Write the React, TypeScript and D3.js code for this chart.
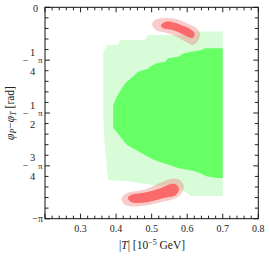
import * as d3 from "d3";

// |T| in 10^-5 GeV, phase difference in units of pi
const outerUpper: [number, number][] = [
  [0.364, -0.21], [0.378, -0.178], [0.405, -0.178], [0.411, -0.155], [0.481, -0.155],
  [0.49, -0.131], [0.585, -0.131], [0.599, -0.115], [0.7, -0.115],
];
const outerLower: [number, number][] = [
  [0.364, -0.524], [0.369, -0.675], [0.378, -0.817], [0.425, -0.822], [0.523, -0.845],
  [0.588, -0.864], [0.611, -0.893], [0.7, -0.893],
];
const coreUpper: [number, number][] = [
  [0.392, -0.462], [0.402, -0.423], [0.416, -0.383], [0.425, -0.36], [0.462, -0.305],
  [0.491, -0.289], [0.495, -0.281], [0.514, -0.265], [0.538, -0.257], [0.547, -0.241],
  [0.575, -0.234], [0.589, -0.218], [0.613, -0.21], [0.641, -0.202], [0.65, -0.194],
  [0.7, -0.194],
];
const coreLower: [number, number][] = [
  [0.392, -0.57], [0.43, -0.65], [0.462, -0.681], [0.505, -0.721], [0.575, -0.76],
  [0.622, -0.776], [0.636, -0.784], [0.654, -0.799], [0.683, -0.807], [0.7, -0.807],
];
const topHalo: [number, number][] = [
  [0.501, -0.079], [0.512, -0.058], [0.538, -0.051], [0.569, -0.055], [0.597, -0.074],
  [0.625, -0.098], [0.636, -0.126], [0.63, -0.159], [0.616, -0.178], [0.597, -0.164],
  [0.569, -0.138], [0.538, -0.119], [0.512, -0.107],
];
const topCore: [number, number][] = [
  [0.526, -0.084], [0.54, -0.068], [0.563, -0.072], [0.583, -0.084], [0.608, -0.103],
  [0.621, -0.124], [0.615, -0.145], [0.597, -0.136], [0.574, -0.117], [0.552, -0.105],
  [0.532, -0.099],
];
const bottomHalo: [number, number][] = [
  [0.415, -0.907], [0.428, -0.881], [0.481, -0.862], [0.523, -0.831], [0.552, -0.812],
  [0.574, -0.812], [0.59, -0.841], [0.588, -0.869], [0.574, -0.897], [0.529, -0.921],
  [0.481, -0.938], [0.445, -0.942], [0.422, -0.93],
];
const bottomCore: [number, number][] = [
  [0.433, -0.902], [0.445, -0.886], [0.481, -0.876], [0.523, -0.857], [0.554, -0.836],
  [0.568, -0.838], [0.577, -0.86], [0.568, -0.888], [0.529, -0.904], [0.49, -0.921],
  [0.462, -0.926], [0.442, -0.921],
];

const xLabels = [0.3, 0.4, 0.5, 0.6, 0.7, 0.8];
const yMajor = [0, -0.25, -0.5, -0.75, -1];
const yNum = ["", "1", "1", "3", ""];
const yDen = ["", "4", "2", "4", ""];

const font = "Liberation Serif";

export default function App() {
  const x0 = 45, x1 = 258.3, y0 = 7.3, y1 = 218.7;
  const x = d3.scaleLinear().domain([0.2, 0.8]).range([x0, x1]);
  const y = d3.scaleLinear().domain([-1, 0]).range([y1, y0]);

  const poly = d3.line<[number, number]>()
    .x(d => x(d[0])).y(d => y(d[1]))
    .curve(d3.curveLinearClosed);
  const blob = d3.line<[number, number]>()
    .x(d => x(d[0])).y(d => y(d[1]))
    .curve(d3.curveCatmullRomClosed);

  const outer = outerUpper.concat(outerLower.slice().reverse());
  const core = coreUpper.concat(coreLower.slice().reverse());

  const xMinor = x.ticks(30);
  const yMinor = d3.range(0, 21).map(i => -i / 20);

  return (
    <svg width={270} height={258} style={{ position: "absolute", left: 0, top: 0 }}
      fontFamily={font}>
      <path d={poly(outer)!} fill="#d8fbd8" />
      <path d={poly(core)!} fill="#66ff66" />
      <path d={blob(topHalo)!} fill="#f08080" fillOpacity={0.4} />
      <path d={blob(bottomHalo)!} fill="#f08080" fillOpacity={0.4} />
      <path d={blob(topCore)!} fill="#fb6a6a" />
      <path d={blob(bottomCore)!} fill="#fb6a6a" />

      {/* ticks */}
      <g stroke="#222" strokeWidth={1}>
        {xMinor.map((t, i) => {
          const major = Math.abs(t * 10 - Math.round(t * 10)) < 1e-6;
          const len = major ? 5 : 3;
          const px = x(t);
          return (
            <g key={"x" + i}>
              <line x1={px} x2={px} y1={y1} y2={y1 - len} />
              <line x1={px} x2={px} y1={y0} y2={y0 + len} />
            </g>
          );
        })}
        {yMinor.map((t, i) => {
          const major = i % 5 === 0;
          const len = major ? 5 : 3.5;
          const py = y(t);
          return (
            <g key={"y" + i}>
              <line x1={x0} x2={x0 + len} y1={py} y2={py} />
              <line x1={x1} x2={x1 - len} y1={py} y2={py} />
            </g>
          );
        })}
      </g>
      <rect x={x0} y={y0} width={x1 - x0} height={y1 - y0} fill="none" stroke="#111" strokeWidth={1} />

      {/* x labels */}
      {xLabels.map(t => (
        <text key={t} x={x(t)} y={231.5} fontSize={10} textAnchor="middle" fill="#222">
          {t.toFixed(1)}
        </text>
      ))}
      <text x={152} y={249} fontSize={11.5} textAnchor="middle" fill="#222">
        |<tspan fontStyle="italic">T</tspan>| [10<tspan dy={-4} fontSize={8}>−5</tspan>
        <tspan dy={4}> GeV]</tspan>
      </text>

      {/* y labels */}
      {yMajor.map((t, i) => {
        const py = y(t);
        if (t === 0) {
          return <text key={i} x={38} y={py + 5} fontSize={10} textAnchor="end" fill="#222">0</text>;
        }
        if (t === -1) {
          return <text key={i} x={43} y={py + 3.5} fontSize={10} textAnchor="end" fill="#222">−π</text>;
        }
        return (
          <g key={i} fill="#222">
            <text x={28.5} y={py + 3.5} fontSize={10} textAnchor="end">−</text>
            <text x={32.5} y={py - 4.5} fontSize={10.5} textAnchor="middle">{yNum[i]}</text>
            <text x={32.5} y={py + 14.5} fontSize={10.5} textAnchor="middle">{yDen[i]}</text>
            <text x={40.3} y={py + 3} fontSize={9} textAnchor="middle">π</text>
          </g>
        );
      })}
      <text transform={`translate(13.5,${(y0 + y1) / 2}) rotate(-90)`} fontSize={11.5}
        textAnchor="middle" fill="#222">
        <tspan fontStyle="italic">φ</tspan>
        <tspan fontStyle="italic" fontSize={8} dy={2}>P</tspan>
        <tspan dy={-2}>−</tspan>
        <tspan fontStyle="italic">φ</tspan>
        <tspan fontStyle="italic" fontSize={8} dy={2}>T</tspan>
        <tspan dy={-2}> [rad]</tspan>
      </text>
    </svg>
  );
}
